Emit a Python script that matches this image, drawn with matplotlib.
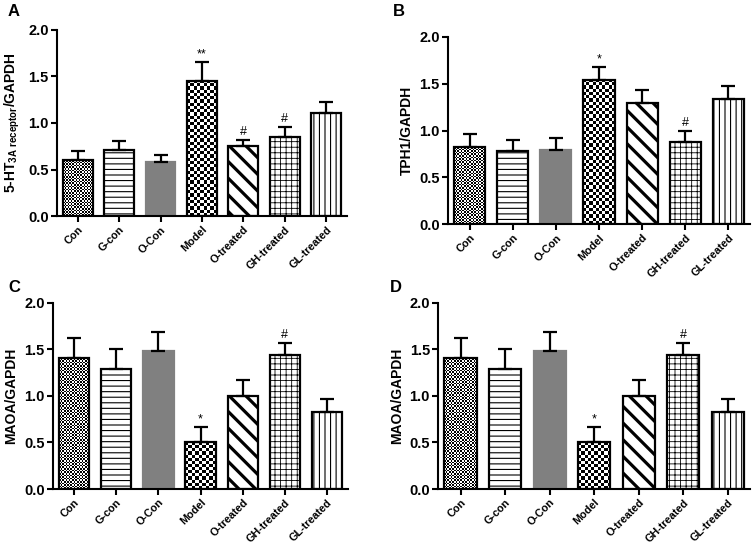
import matplotlib
matplotlib.use("Agg")
import matplotlib.pyplot as plt
import numpy as np

plt.rcParams['font.family'] = ['Liberation Sans', 'DejaVu Sans']
plt.rcParams['font.weight'] = 'bold'
plt.rcParams['mathtext.fontset'] = 'custom'
plt.rcParams['mathtext.rm'] = 'Liberation Sans:bold'
plt.rcParams['mathtext.bf'] = 'Liberation Sans:bold'

groups = ['Con', 'G-con', 'O-Con', 'Model', 'O-treated', 'GH-treated', 'GL-treated']

ht3a_mean = [0.60, 0.71, 0.58, 1.45, 0.75, 0.85, 1.11]
ht3a_err = [0.10, 0.10, 0.08, 0.21, 0.07, 0.11, 0.12]
ht3a_marks = ['', '', '', '**', '#', '#', '']

tph1_mean = [0.82, 0.78, 0.79, 1.54, 1.29, 0.88, 1.34]
tph1_err = [0.14, 0.12, 0.13, 0.14, 0.14, 0.12, 0.14]
tph1_marks = ['', '', '', '*', '', '#', '']

maoa_mean = [1.41, 1.29, 1.48, 0.50, 1.00, 1.44, 0.83]
maoa_err = [0.21, 0.21, 0.21, 0.17, 0.17, 0.13, 0.14]
maoa_marks = ['', '', '', '*', '', '#', '']


def checker(nx, ny):
    a = np.indices((ny, nx)).sum(axis=0) % 2
    return a


def draw_panel(ax, means, errs, marks, ylabel):
    x = np.arange(len(groups))
    w = 0.72
    ax.set_xlim(-0.5, 6.5)
    ax.set_ylim(0, 2.0)
    fig = ax.figure
    bb = ax.get_position()
    px_per_unit = bb.height * fig.get_figheight() * fig.dpi / 2.0
    # style per group: (hatch, facecolor, edgecolor, hatch lw, checker cell px)
    styles = [('', 'none', 'black', 1.0, 1.6),
              ('---', 'white', 'black', 0.8, None),
              ('', '#808080', '#808080', 1.0, None),
              ('', 'none', 'black', 1.0, 3.2),
              ('\\\\', 'white', 'black', 2.3, None),
              ('+++', 'white', 'black', 0.6, None),
              ('|||', 'white', 'black', 0.8, None)]
    for i in range(len(groups)):
        hatch, fc, ec, hlw, cell = styles[i]
        with plt.rc_context({'hatch.linewidth': hlw, 'hatch.color': 'black'}):
            bar = ax.bar(x[i], means[i], width=w, color=fc, edgecolor=ec,
                         hatch=hatch, linewidth=1.6, zorder=2)[0]
        if cell is not None:
            bw_px = w * bb.width * fig.get_figwidth() * fig.dpi / 7.0
            nx = max(int(round(bw_px / cell)), 1)
            ny = max(int(round(means[i] * px_per_unit / cell)), 1)
            img = ax.imshow(checker(nx, ny), cmap='gray', vmin=0, vmax=1,
                            interpolation='nearest', aspect='auto',
                            extent=(x[i] - w / 2, x[i] + w / 2, 0, means[i]),
                            zorder=1.5)
            img.set_clip_path(bar)
    ax.set_xlim(-0.5, 6.5)
    ax.set_ylim(0, 2.0)
    ax.errorbar(x, means, yerr=[np.zeros(len(errs)), errs], fmt='none',
                ecolor='black', elinewidth=1.6, capsize=5, capthick=1.6, zorder=3)
    for i in range(len(groups)):
        if marks[i]:
            ax.annotate(marks[i], (x[i], means[i] + errs[i]), xytext=(0, 1),
                        textcoords='offset points', ha='center', va='bottom',
                        fontsize=9, fontweight='normal')
    ax.spines['top'].set_visible(False)
    ax.spines['right'].set_visible(False)
    ax.spines['left'].set_linewidth(1.5)
    ax.spines['bottom'].set_linewidth(1.5)
    ax.set_xticks(x)
    ax.set_xticklabels(groups, rotation=45, ha='right', rotation_mode='anchor',
                       fontsize=7.8)
    ax.set_yticks([0.0, 0.5, 1.0, 1.5, 2.0])
    ax.set_yticklabels(['0.0', '0.5', '1.0', '1.5', '2.0'], fontsize=10.5)
    ax.tick_params(width=1.5, length=4, pad=2)
    ax.set_ylabel(ylabel, fontsize=10, fontweight='bold', labelpad=4)


fig = plt.figure(figsize=(7.53, 5.43), dpi=100)
axA = fig.add_axes([0.0757, 0.602, 0.385, 0.343])
axB = fig.add_axes([0.595, 0.587, 0.401, 0.345])
axC = fig.add_axes([0.0704, 0.0994, 0.392, 0.343])
axD = fig.add_axes([0.582, 0.0994, 0.414, 0.343])

draw_panel(axA, ht3a_mean, ht3a_err, ht3a_marks,
           r'5-HT$_{\mathregular{3A\ receptor}}$/GAPDH')
draw_panel(axB, tph1_mean, tph1_err, tph1_marks, 'TPH1/GAPDH')
draw_panel(axC, maoa_mean, maoa_err, maoa_marks, 'MAOA/GAPDH')
draw_panel(axD, maoa_mean, maoa_err, maoa_marks, 'MAOA/GAPDH')

for lab, (px, py) in zip('ABCD', [(8, 12), (393, 12), (8, 288), (390, 288)]):
    fig.text(px / 753, 1 - py / 543, lab, fontsize=12, fontweight='bold',
             ha='left', va='center')

fig.savefig('out.png', dpi=100)
